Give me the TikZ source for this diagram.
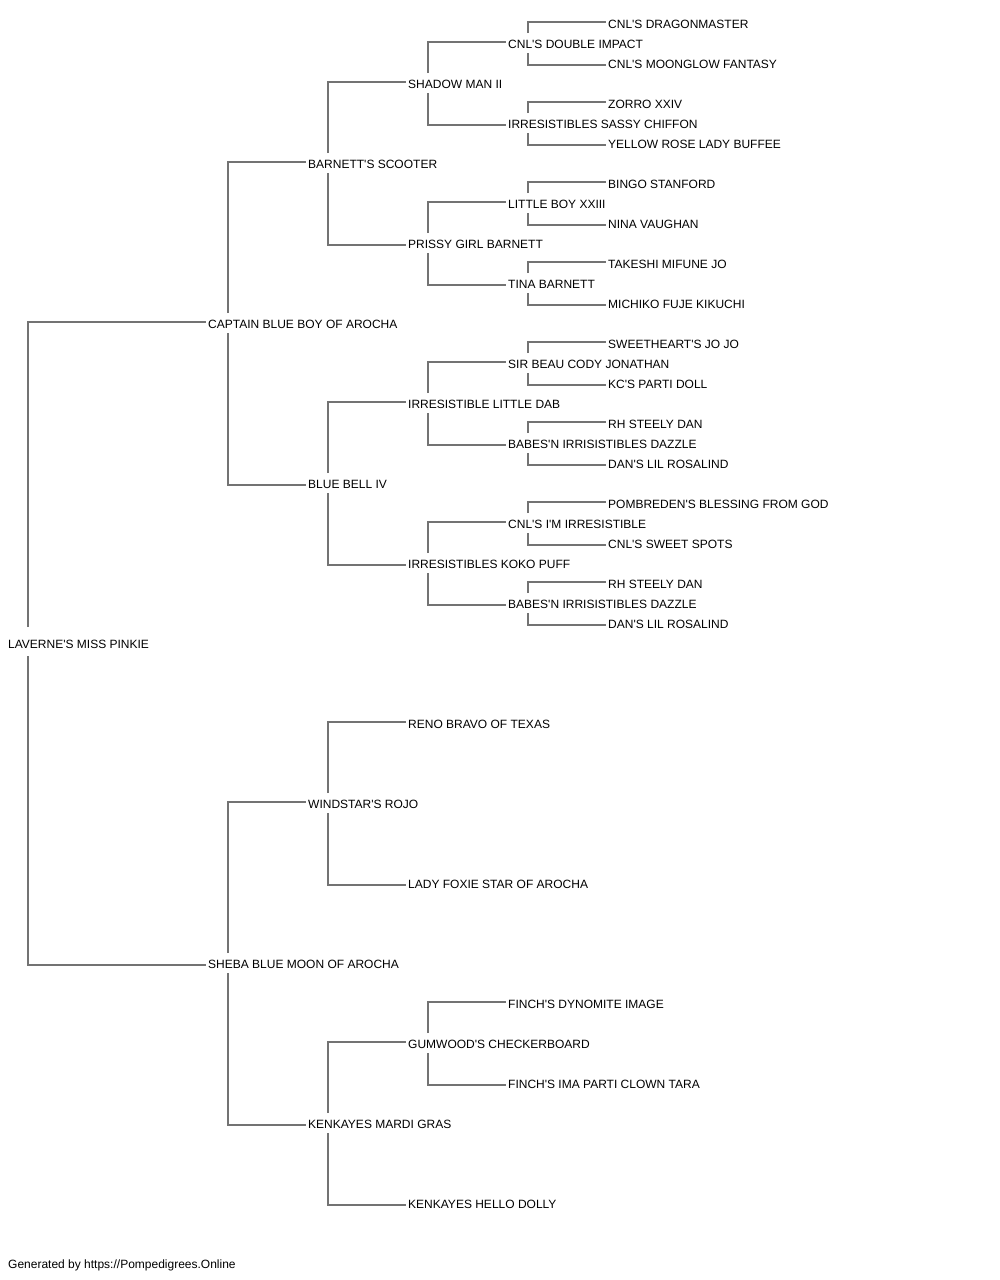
\documentclass[tikz,border=0pt]{standalone}
\usepackage{fontspec}
\setmainfont{Liberation Sans}[Ligatures=TeXOff]
\begin{document}
\begin{tikzpicture}[x=1pt,y=-1pt,
  lab/.style={anchor=west,inner sep=0pt,text height=10.6pt,text depth=0pt,font=\fontsize{12pt}{14pt}\selectfont,text=black},
  conn/.style={draw=black!55,line width=1.4pt}]
\useasboundingbox (0,0) rectangle (1000,1280);
% generation 0-2
\node[lab] (r) at (8,643) {LAVERNE'S MISS PINKIE};
\node[lab] (a) at (208,323) {CAPTAIN BLUE BOY OF AROCHA};
\node[lab] (b) at (208,963) {SHEBA BLUE MOON OF AROCHA};
\node[lab] (aa) at (308,163) {BARNETT'S SCOOTER};
\node[lab] (ab) at (308,483) {BLUE BELL IV};
\node[lab] (ba) at (308,803) {WINDSTAR'S ROJO};
\node[lab] (bb) at (308,1123) {KENKAYES MARDI GRAS};
% generation 3
\node[lab] (aaa) at (408,83) {SHADOW MAN II};
\node[lab] (aab) at (408,243) {PRISSY GIRL BARNETT};
\node[lab] (aba) at (408,403) {IRRESISTIBLE LITTLE DAB};
\node[lab] (abb) at (408,563) {IRRESISTIBLES KOKO PUFF};
\node[lab] (baa) at (408,723) {RENO BRAVO OF TEXAS};
\node[lab] (bab) at (408,883) {LADY FOXIE STAR OF AROCHA};
\node[lab] (bba) at (408,1043) {GUMWOOD'S CHECKERBOARD};
\node[lab] (bbb) at (408,1203) {KENKAYES HELLO DOLLY};
% generation 4
\node[lab] (aaaa) at (508,43) {CNL'S DOUBLE IMPACT};
\node[lab] (aaab) at (508,123) {IRRESISTIBLES SASSY CHIFFON};
\node[lab] (aaba) at (508,203) {LITTLE BOY XXIII};
\node[lab] (aabb) at (508,283) {TINA BARNETT};
\node[lab] (abaa) at (508,363) {SIR BEAU CODY JONATHAN};
\node[lab] (abab) at (508,443) {BABES'N IRRISISTIBLES DAZZLE};
\node[lab] (abba) at (508,523) {CNL'S I'M IRRESISTIBLE};
\node[lab] (abbb) at (508,603) {BABES'N IRRISISTIBLES DAZZLE};
\node[lab] (bbaa) at (508,1003) {FINCH'S DYNOMITE IMAGE};
\node[lab] (bbab) at (508,1083) {FINCH'S IMA PARTI CLOWN TARA};
% generation 5
\node[lab] (aaaaa) at (608,23) {CNL'S DRAGONMASTER};
\node[lab] (aaaab) at (608,63) {CNL'S MOONGLOW FANTASY};
\node[lab] (aaaba) at (608,103) {ZORRO XXIV};
\node[lab] (aaabb) at (608,143) {YELLOW ROSE LADY BUFFEE};
\node[lab] (aabaa) at (608,183) {BINGO STANFORD};
\node[lab] (aabab) at (608,223) {NINA VAUGHAN};
\node[lab] (aabba) at (608,263) {TAKESHI MIFUNE JO};
\node[lab] (aabbb) at (608,303) {MICHIKO FUJE KIKUCHI};
\node[lab] (abaaa) at (608,343) {SWEETHEART'S JO JO};
\node[lab] (abaab) at (608,383) {KC'S PARTI DOLL};
\node[lab] (ababa) at (608,423) {RH STEELY DAN};
\node[lab] (ababb) at (608,463) {DAN'S LIL ROSALIND};
\node[lab] (abbaa) at (608,503) {POMBREDEN'S BLESSING FROM GOD};
\node[lab] (abbab) at (608,543) {CNL'S SWEET SPOTS};
\node[lab] (abbba) at (608,583) {RH STEELY DAN};
\node[lab] (abbbb) at (608,623) {DAN'S LIL ROSALIND};
% footer
\node[lab] (foot) at (8,1263) {Generated by https://Pompedigrees.Online};
% connectors
\draw[conn] ([xshift=20pt,yshift=16pt]r.west) |- ([xshift=-2pt,yshift=1pt]a.west);
\draw[conn] ([xshift=20pt,yshift=-13pt]r.west) |- ([xshift=-2pt,yshift=-2pt]b.west);
\foreach \p/\u/\l in {a/aa/ab, b/ba/bb, aa/aaa/aab, ab/aba/abb, ba/baa/bab, bb/bba/bbb,
  aaa/aaaa/aaab, aab/aaba/aabb, aba/abaa/abab, abb/abba/abbb, bba/bbaa/bbab,
  aaaa/aaaaa/aaaab, aaab/aaaba/aaabb, aaba/aabaa/aabab, aabb/aabba/aabbb,
  abaa/abaaa/abaab, abab/ababa/ababb, abba/abbaa/abbab, abbb/abbba/abbbb}{
  \draw[conn] ([xshift=20pt,yshift=10pt]\p.west) |- ([xshift=-2pt,yshift=1pt]\u.west);
  \draw[conn] ([xshift=20pt,yshift=-10pt]\p.west) |- ([xshift=-2pt,yshift=-2pt]\l.west);
}
\end{tikzpicture}
\end{document}
